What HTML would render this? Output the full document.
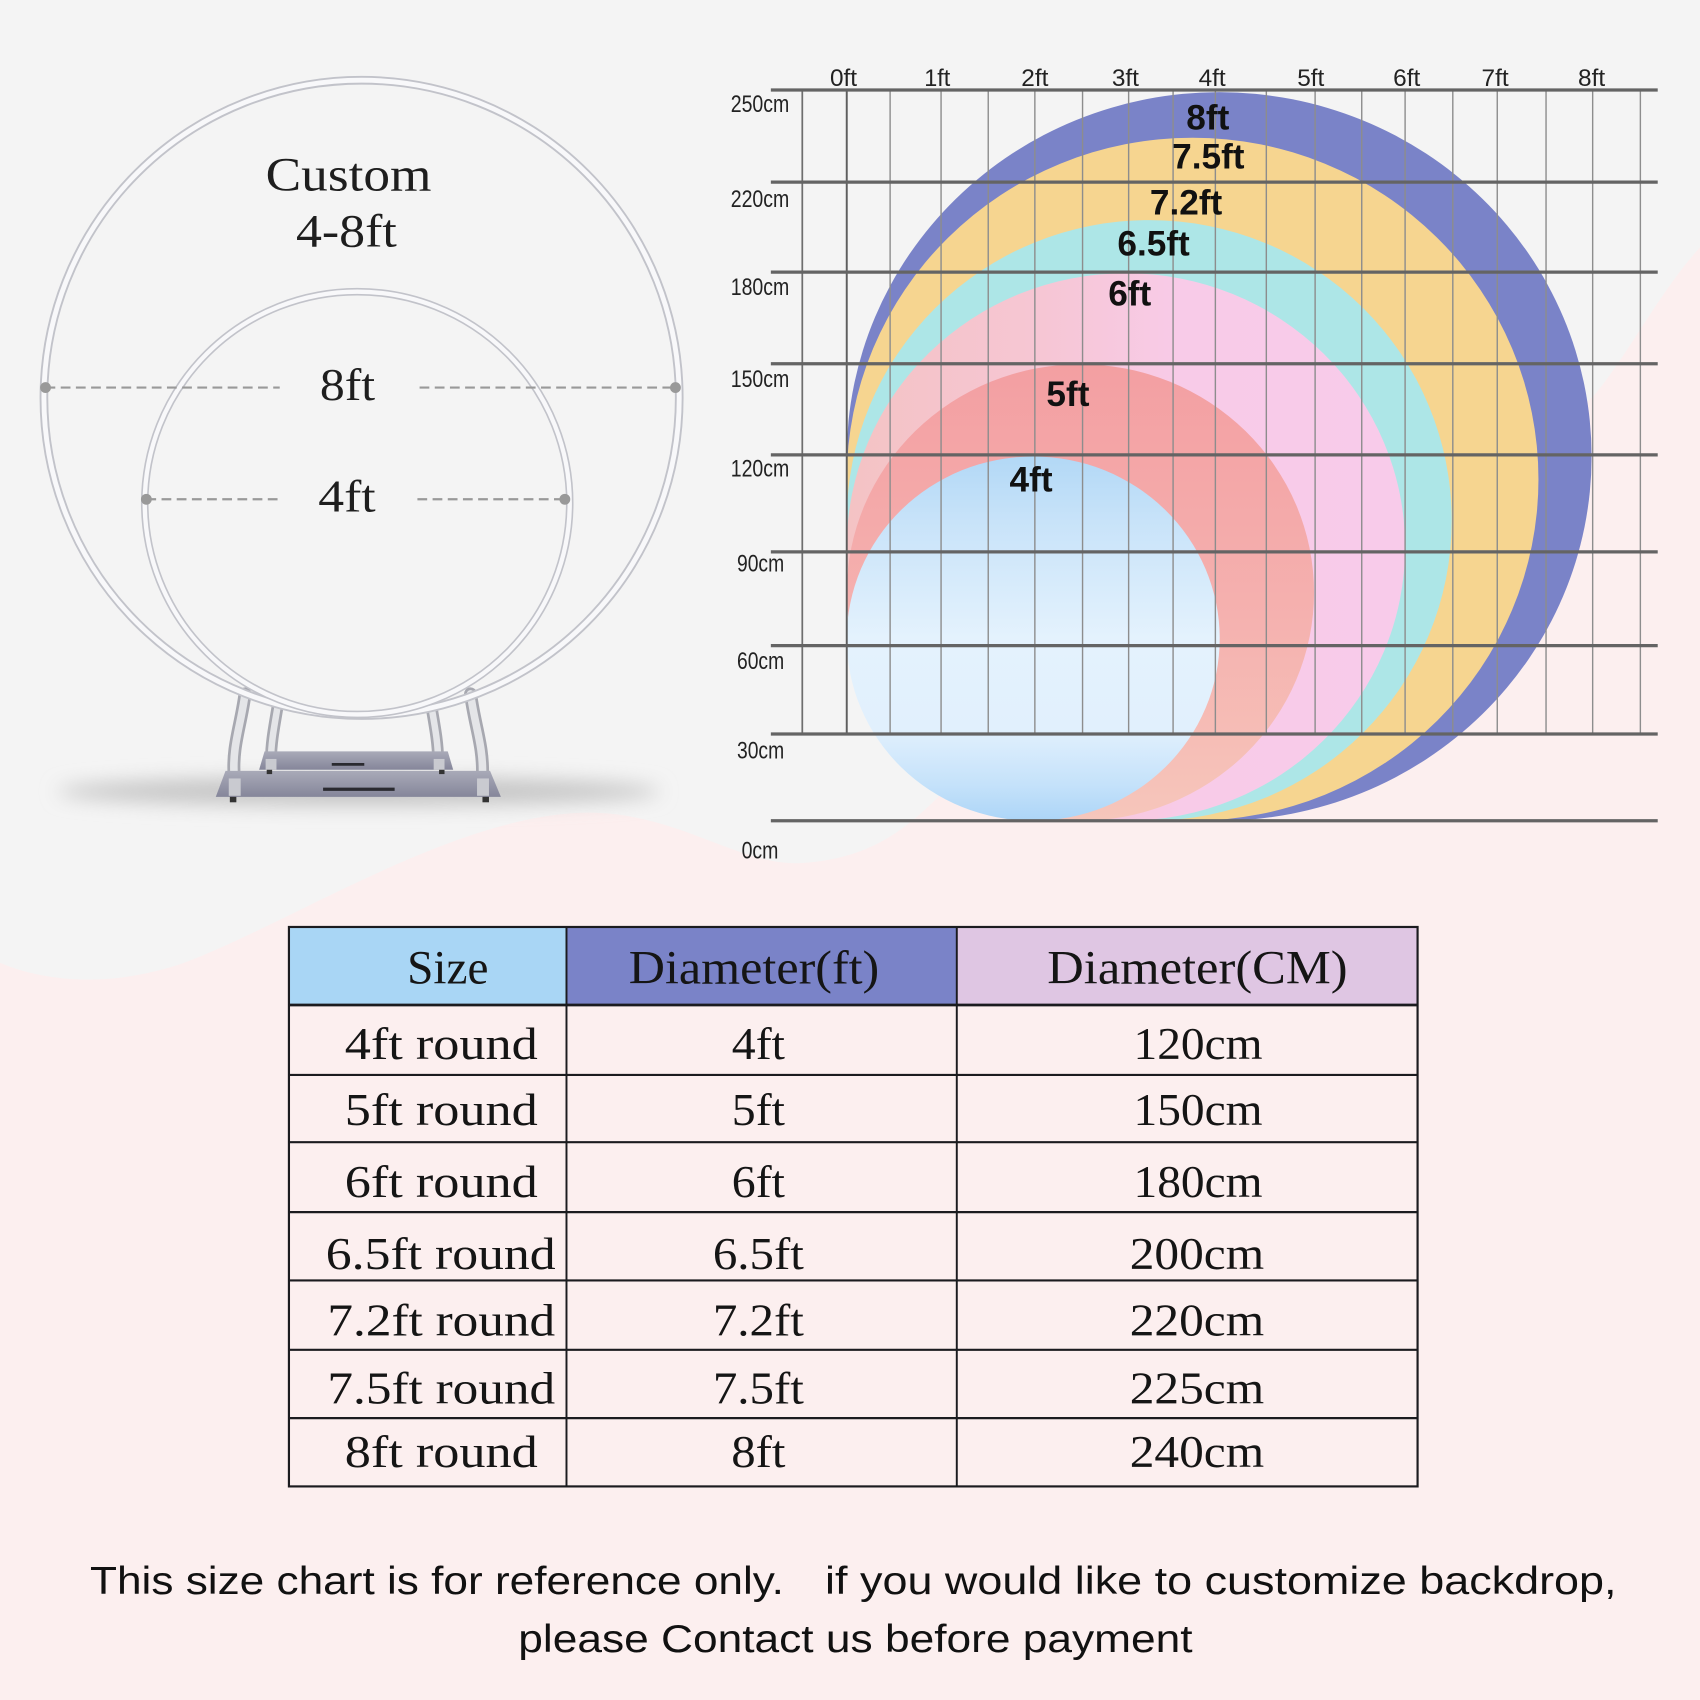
<!DOCTYPE html>
<html><head><meta charset="utf-8"><style>html,body{margin:0;padding:0;background:#f4f4f4;}svg{display:block}</style></head>
<body>
<svg width="1700" height="1700" viewBox="0 0 1568 1568" xmlns="http://www.w3.org/2000/svg">
<defs>
<linearGradient id="g4" x1="0" y1="0" x2="0" y2="1">
<stop offset="0" stop-color="#b2d8f6"/><stop offset="0.18" stop-color="#c8e3f9"/><stop offset="0.5" stop-color="#e4f2fd"/><stop offset="0.75" stop-color="#e1f0fd"/><stop offset="0.9" stop-color="#c5e2fa"/><stop offset="1" stop-color="#acd5f7"/>
</linearGradient>
<linearGradient id="g5" x1="0" y1="0" x2="0" y2="1">
<stop offset="0" stop-color="#f39fa2"/><stop offset="0.55" stop-color="#f5b1af"/><stop offset="1" stop-color="#f6c6bb"/>
</linearGradient>
<linearGradient id="g6" x1="0" y1="0" x2="1" y2="0">
<stop offset="0" stop-color="#f4c3c4"/><stop offset="0.35" stop-color="#f6c6d4"/><stop offset="0.6" stop-color="#f8cbe8"/><stop offset="1" stop-color="#f8cbea"/>
</linearGradient>
<linearGradient id="plate" x1="0" y1="0" x2="0" y2="1">
<stop offset="0" stop-color="#a9aab8"/><stop offset="1" stop-color="#85869a"/>
</linearGradient>
<filter id="blur" x="-20%" y="-200%" width="140%" height="500%"><feGaussianBlur stdDeviation="9"/></filter>
</defs>

<!-- background -->
<rect x="0" y="0" width="1568" height="1568" fill="#f4f4f4"/>
<path d="M0,888 C40,905 100,912 170,888 C270,850 410,758 529,750 C620,744 680,800 740,796 C800,792 835,768 875,725 C1050,560 1300,520 1470,365 C1500,330 1530,270 1568,228 L1568,1568 L0,1568 Z" fill="#fcefef"/>

<!-- left illustration -->
<ellipse cx="331" cy="730" rx="278" ry="13" fill="#c4c4c4" filter="url(#blur)"/>
<!-- legs -->
<g fill="none" stroke-linecap="round">
<path d="M226,640 C222,670 214,688 216,716" stroke="#a7a8b0" stroke-width="12"/>
<path d="M226,640 C222,670 214,688 216,716" stroke="#e4e5e8" stroke-width="7"/>
<path d="M434,640 C438,670 446,688 445,716" stroke="#a7a8b0" stroke-width="12"/>
<path d="M434,640 C438,670 446,688 445,716" stroke="#e4e5e8" stroke-width="7"/>
<path d="M256,652 C253,670 250,685 250,700" stroke="#a7a8b0" stroke-width="11"/>
<path d="M256,652 C253,670 250,685 250,700" stroke="#e4e5e8" stroke-width="6"/>
<path d="M398,652 C401,670 404,685 404,700" stroke="#a7a8b0" stroke-width="11"/>
<path d="M398,652 C401,670 404,685 404,700" stroke="#e4e5e8" stroke-width="6"/>
</g>
<!-- plates -->
<polygon points="244,693 413,693 418,710 239,710" fill="url(#plate)"/>
<polygon points="208,711 452,711 462,735 199,735" fill="url(#plate)"/>
<line x1="306" y1="705" x2="336" y2="705" stroke="#2a2a30" stroke-width="2.5"/>
<line x1="298" y1="728" x2="364" y2="728" stroke="#2a2a30" stroke-width="3"/>
<rect x="245" y="700" width="10" height="10" fill="#c9cad0"/>
<rect x="400" y="700" width="10" height="10" fill="#c9cad0"/>
<rect x="211" y="718" width="11" height="16" fill="#c9cad0"/>
<rect x="440" y="718" width="11" height="16" fill="#c9cad0"/>
<rect x="212" y="735" width="6" height="5" fill="#333"/>
<rect x="445" y="735" width="6" height="5" fill="#333"/>
<rect x="246" y="710" width="5" height="4" fill="#333"/>
<rect x="405" y="710" width="5" height="4" fill="#333"/>
<!-- rings -->
<ellipse cx="333.5" cy="367" rx="293" ry="293" fill="none" stroke="#c2c3ca" stroke-width="8"/>
<ellipse cx="333.5" cy="367" rx="293" ry="293" fill="none" stroke="#f8f8fa" stroke-width="4.5"/>
<ellipse cx="329.5" cy="464" rx="196" ry="195" fill="none" stroke="#c2c3ca" stroke-width="7"/>
<ellipse cx="329.5" cy="464" rx="196" ry="195" fill="none" stroke="#f8f8fa" stroke-width="4"/>
<!-- dashed measures -->
<g stroke="#999" stroke-width="2" stroke-dasharray="9 5" fill="none">
<line x1="42" y1="357.5" x2="258" y2="357.5"/>
<line x1="387" y1="357.5" x2="623" y2="357.5"/>
<line x1="135" y1="460.5" x2="261" y2="460.5"/>
<line x1="385" y1="460.5" x2="521" y2="460.5"/>
</g>
<g fill="#999">
<circle cx="42" cy="357.5" r="5"/><circle cx="623" cy="357.5" r="5"/>
<circle cx="135" cy="460.5" r="5"/><circle cx="521" cy="460.5" r="5"/>
</g>
<g font-family="'Liberation Serif', serif" fill="#1e1e1e">
<text x="245" y="175.5" font-size="44" textLength="153" lengthAdjust="spacingAndGlyphs">Custom</text>
<text x="273" y="227.5" font-size="43" textLength="93" lengthAdjust="spacingAndGlyphs">4-8ft</text>
<text x="295" y="369" font-size="42" textLength="51" lengthAdjust="spacingAndGlyphs">8ft</text>
<text x="293.5" y="472" font-size="42" textLength="53" lengthAdjust="spacingAndGlyphs">4ft</text>
</g>

<!-- chart circles -->
<ellipse cx="1124.5" cy="421" rx="343.5" ry="336" fill="#7a83c8"/>
<ellipse cx="1100" cy="442" rx="319" ry="315" fill="#f6d590"/>
<ellipse cx="1060" cy="480" rx="279" ry="277" fill="#ade6e7"/>
<ellipse cx="1038.5" cy="504.5" rx="257.5" ry="252.5" fill="url(#g6)"/>
<ellipse cx="996.5" cy="546.5" rx="215.5" ry="210.5" fill="url(#g5)"/>
<ellipse cx="953" cy="589" rx="172" ry="168" fill="url(#g4)"/>

<!-- vertical grid -->
<g stroke="#8d8d8d" stroke-width="1.3">
<line x1="740" y1="83" x2="740" y2="677" stroke="#6e6e6e" stroke-width="1.6"/>
<line x1="781" y1="83" x2="781" y2="677" stroke="#5e5e5e" stroke-width="1.8"/>
<line x1="821" y1="83" x2="821" y2="677"/>
<line x1="868" y1="83" x2="868" y2="677"/>
<line x1="911.5" y1="83" x2="911.5" y2="677"/>
<line x1="954.5" y1="83" x2="954.5" y2="677"/>
<line x1="998.5" y1="83" x2="998.5" y2="677"/>
<line x1="1041" y1="83" x2="1041" y2="677"/>
<line x1="1082" y1="83" x2="1082" y2="677"/>
<line x1="1121" y1="83" x2="1121" y2="677"/>
<line x1="1168" y1="83" x2="1168" y2="677"/>
<line x1="1213" y1="83" x2="1213" y2="677"/>
<line x1="1256" y1="83" x2="1256" y2="677"/>
<line x1="1296" y1="83" x2="1296" y2="677"/>
<line x1="1340" y1="83" x2="1340" y2="677"/>
<line x1="1381" y1="83" x2="1381" y2="677"/>
<line x1="1426" y1="83" x2="1426" y2="677"/>
<line x1="1469" y1="83" x2="1469" y2="677"/>
<line x1="1513" y1="83" x2="1513" y2="677"/>
</g>
<!-- horizontal grid -->
<g stroke="#646464" stroke-width="3">
<line x1="711" y1="83" x2="1529" y2="83"/>
<line x1="711" y1="168" x2="1529" y2="168"/>
<line x1="711" y1="251" x2="1529" y2="251"/>
<line x1="711" y1="335.5" x2="1529" y2="335.5"/>
<line x1="711" y1="419.5" x2="1529" y2="419.5"/>
<line x1="711" y1="509" x2="1529" y2="509"/>
<line x1="711" y1="595.5" x2="1529" y2="595.5"/>
<line x1="711" y1="677" x2="1529" y2="677"/>
<line x1="711" y1="757" x2="1529" y2="757"/>
</g>

<!-- axis labels -->
<g font-family="'Liberation Sans', sans-serif" font-size="22.5" fill="#222" text-anchor="middle">
<text x="701" y="103.5" textLength="54" lengthAdjust="spacingAndGlyphs">250cm</text>
<text x="701" y="191" textLength="54" lengthAdjust="spacingAndGlyphs">220cm</text>
<text x="701" y="272" textLength="54" lengthAdjust="spacingAndGlyphs">180cm</text>
<text x="701" y="357" textLength="54" lengthAdjust="spacingAndGlyphs">150cm</text>
<text x="701" y="439.5" textLength="54" lengthAdjust="spacingAndGlyphs">120cm</text>
<text x="701.5" y="527" textLength="43.5" lengthAdjust="spacingAndGlyphs">90cm</text>
<text x="701.5" y="617" textLength="43.5" lengthAdjust="spacingAndGlyphs">60cm</text>
<text x="701.5" y="699.5" textLength="43.5" lengthAdjust="spacingAndGlyphs">30cm</text>
<text x="701" y="792" textLength="34" lengthAdjust="spacingAndGlyphs">0cm</text>
<text x="778" y="79.5" textLength="25" lengthAdjust="spacingAndGlyphs">0ft</text>
<text x="864.5" y="79.5" textLength="24" lengthAdjust="spacingAndGlyphs">1ft</text>
<text x="954.5" y="79.5" textLength="25" lengthAdjust="spacingAndGlyphs">2ft</text>
<text x="1038" y="79.5" textLength="25" lengthAdjust="spacingAndGlyphs">3ft</text>
<text x="1118" y="79.5" textLength="25" lengthAdjust="spacingAndGlyphs">4ft</text>
<text x="1209" y="79.5" textLength="25" lengthAdjust="spacingAndGlyphs">5ft</text>
<text x="1297.5" y="79.5" textLength="25" lengthAdjust="spacingAndGlyphs">6ft</text>
<text x="1379" y="79.5" textLength="25" lengthAdjust="spacingAndGlyphs">7ft</text>
<text x="1468" y="79.5" textLength="25" lengthAdjust="spacingAndGlyphs">8ft</text>
</g>

<!-- circle labels -->
<g font-family="'Liberation Sans', sans-serif" font-size="32.5" font-weight="bold" fill="#111" text-anchor="middle">
<text x="1114" y="119.5">8ft</text>
<text x="1114.5" y="155.5">7.5ft</text>
<text x="1094" y="198">7.2ft</text>
<text x="1064" y="235.5">6.5ft</text>
<text x="1042" y="282">6ft</text>
<text x="985" y="374.5">5ft</text>
<text x="951" y="453.5">4ft</text>
</g>

<!-- table -->
<rect x="266.5" y="855" width="256" height="72" fill="#a9d6f5"/>
<rect x="522.5" y="855" width="360" height="72" fill="#7a83c8"/>
<rect x="882.5" y="855" width="425" height="72" fill="#dfc6e3"/>
<rect x="266.5" y="927" width="1041" height="444" fill="#fcefef"/>
<g stroke="#1b1b1f" fill="none">
<rect x="266.5" y="855" width="1041" height="516" stroke-width="2"/>
<line x1="266.5" y1="927" x2="1307.5" y2="927" stroke-width="2.5"/>
<line x1="266.5" y1="991.5" x2="1307.5" y2="991.5" stroke-width="2"/>
<line x1="266.5" y1="1053.5" x2="1307.5" y2="1053.5" stroke-width="2"/>
<line x1="266.5" y1="1118" x2="1307.5" y2="1118" stroke-width="2"/>
<line x1="266.5" y1="1181" x2="1307.5" y2="1181" stroke-width="2"/>
<line x1="266.5" y1="1245" x2="1307.5" y2="1245" stroke-width="2"/>
<line x1="266.5" y1="1308" x2="1307.5" y2="1308" stroke-width="2"/>
<line x1="522.5" y1="855" x2="522.5" y2="1371" stroke-width="1.8"/>
<line x1="882.5" y1="855" x2="882.5" y2="1371" stroke-width="1.8"/>
</g>
<g font-family="'Liberation Serif', serif" fill="#151515" text-anchor="middle">
<g font-size="44">
<text x="413" y="907" textLength="75" lengthAdjust="spacingAndGlyphs">Size</text>
<text x="695.5" y="907" textLength="231" lengthAdjust="spacingAndGlyphs">Diameter(ft)</text>
<text x="1104.5" y="907" textLength="277" lengthAdjust="spacingAndGlyphs">Diameter(CM)</text>
</g>
<g font-size="42">
<text x="407" y="977" textLength="178" lengthAdjust="spacingAndGlyphs">4ft round</text>
<text x="407" y="1037.5" textLength="178" lengthAdjust="spacingAndGlyphs">5ft round</text>
<text x="407" y="1104" textLength="178" lengthAdjust="spacingAndGlyphs">6ft round</text>
<text x="406.5" y="1170.5" textLength="212" lengthAdjust="spacingAndGlyphs">6.5ft round</text>
<text x="407" y="1232" textLength="210" lengthAdjust="spacingAndGlyphs">7.2ft round</text>
<text x="407" y="1294.5" textLength="210" lengthAdjust="spacingAndGlyphs">7.5ft round</text>
<text x="407" y="1353" textLength="178" lengthAdjust="spacingAndGlyphs">8ft round</text>

<text x="699.5" y="977" textLength="49" lengthAdjust="spacingAndGlyphs">4ft</text>
<text x="699.5" y="1037.5" textLength="49" lengthAdjust="spacingAndGlyphs">5ft</text>
<text x="699.5" y="1104" textLength="49" lengthAdjust="spacingAndGlyphs">6ft</text>
<text x="699.5" y="1170.5" textLength="84" lengthAdjust="spacingAndGlyphs">6.5ft</text>
<text x="699.5" y="1232" textLength="84" lengthAdjust="spacingAndGlyphs">7.2ft</text>
<text x="699.5" y="1294.5" textLength="84" lengthAdjust="spacingAndGlyphs">7.5ft</text>
<text x="699.5" y="1353" textLength="50" lengthAdjust="spacingAndGlyphs">8ft</text>

<text x="1105" y="977" textLength="119" lengthAdjust="spacingAndGlyphs">120cm</text>
<text x="1105" y="1037.5" textLength="119" lengthAdjust="spacingAndGlyphs">150cm</text>
<text x="1105" y="1104" textLength="119" lengthAdjust="spacingAndGlyphs">180cm</text>
<text x="1104" y="1170.5" textLength="124" lengthAdjust="spacingAndGlyphs">200cm</text>
<text x="1104" y="1232" textLength="124" lengthAdjust="spacingAndGlyphs">220cm</text>
<text x="1104" y="1294.5" textLength="124" lengthAdjust="spacingAndGlyphs">225cm</text>
<text x="1104" y="1353" textLength="124" lengthAdjust="spacingAndGlyphs">240cm</text>
</g>
</g>

<!-- footer -->
<g font-family="'Liberation Sans', sans-serif" font-size="36" fill="#111">
<text x="83" y="1470" textLength="640" lengthAdjust="spacingAndGlyphs">This size chart is for reference only.</text>
<text x="761" y="1470" textLength="730" lengthAdjust="spacingAndGlyphs">if you would like to customize backdrop,</text>
<text x="478" y="1523.5" textLength="622" lengthAdjust="spacingAndGlyphs">please Contact us before payment</text>
</g>
</svg>
</body></html>
